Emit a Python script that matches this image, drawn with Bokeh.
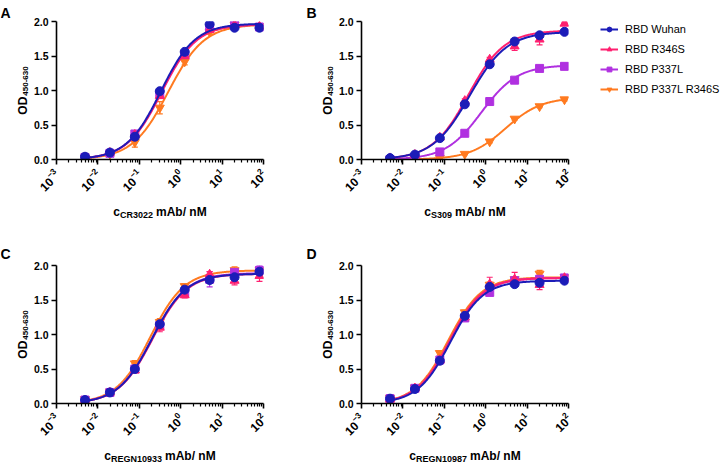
import math
import numpy as np
from bokeh.plotting import figure
from bokeh.layouts import column, row
from bokeh.models import (Range1d, FixedTicker, PrintfTickFormatter, Legend,
                          LegendItem, Whisker, ColumnDataSource, TeeHead)
from bokeh.core.properties import value
from bokeh.embed import file_html
from bokeh.resources import INLINE

# ---------------- data ----------------
CONC = [0.00488, 0.0195, 0.078, 0.3125, 1.25, 5.0, 20.0, 80.0]   # nM
SERIES = ["RBD Wuhan", "RBD R346S", "RBD P337L", "RBD P337L R346S"]
COLORS = ["#1C1CB8", "#FF2070", "#B030E0", "#FF7A20"]
MARKERS = ["circle", "triangle", "square", "inverted_triangle"]
MSIZE = [9, 9, 8, 9]
X_TICKS = [1e-3, 1e-2, 1e-1, 1e0, 1e1, 1e2]
Y_TICKS = [0.0, 0.5, 1.0, 1.5, 2.0]

# Panel A - CR3022
A_WUHAN = [0.04, 0.10, 0.33, 0.99, 1.56, 1.96, 1.91, 1.91]
A_R346S = [0.03, 0.10, 0.36, 0.92, 1.50, 1.88, 1.95, 1.93]
A_P337L = [0.03, 0.09, 0.37, 0.95, 1.52, 1.90, 1.95, 1.92]
A_P337L_R346S = [0.02, 0.08, 0.25, 0.75, 1.42, 1.85, 1.95, 1.93]
A_WUHAN_ERR = [0.01, 0.01, 0.02, 0.03, 0.02, 0.04, 0.02, 0.03]
A_R346S_ERR = [0.01, 0.02, 0.02, 0.03, 0.03, 0.02, 0.02, 0.02]
A_P337L_ERR = [0.01, 0.01, 0.03, 0.03, 0.02, 0.04, 0.02, 0.03]
A_P337L_R346S_ERR = [0.01, 0.03, 0.07, 0.09, 0.05, 0.03, 0.02, 0.02]
# 4PL fit parameters (top, EC50, Hill), bottom = 0
A_FIT = [(1.97, 0.33, 1.05), (1.96, 0.35, 1.03), (1.96, 0.34, 1.04), (1.96, 0.50, 1.00)]

# Panel B - S309
B_WUHAN = [0.02, 0.07, 0.31, 0.80, 1.38, 1.71, 1.80, 1.85]
B_R346S = [0.02, 0.07, 0.32, 0.85, 1.45, 1.64, 1.74, 1.97]
B_P337L = [0.00, 0.00, 0.11, 0.38, 0.84, 1.15, 1.32, 1.35]
B_P337L_R346S = [0.00, 0.00, 0.02, 0.08, 0.26, 0.59, 0.77, 0.87]
B_WUHAN_ERR = [0.01, 0.01, 0.02, 0.02, 0.02, 0.02, 0.03, 0.02]
B_R346S_ERR = [0.01, 0.01, 0.02, 0.03, 0.03, 0.06, 0.08, 0.02]
B_P337L_ERR = [0.01, 0.01, 0.01, 0.02, 0.02, 0.02, 0.02, 0.02]
B_P337L_R346S_ERR = [0.01, 0.01, 0.01, 0.01, 0.02, 0.02, 0.02, 0.02]
B_FIT = [(1.85, 0.41, 0.97), (1.87, 0.38, 1.00), (1.37, 0.79, 1.00), (0.90, 3.00, 1.00)]

# Panel C - REGN10933
C_WUHAN = [0.05, 0.16, 0.50, 1.15, 1.65, 1.79, 1.83, 1.91]
C_R346S = [0.04, 0.16, 0.48, 1.10, 1.57, 1.87, 1.78, 1.85]
C_P337L = [0.05, 0.16, 0.50, 1.13, 1.60, 1.80, 1.90, 1.93]
C_P337L_R346S = [0.06, 0.17, 0.58, 1.18, 1.70, 1.82, 1.93, 1.93]
C_WUHAN_ERR = [0.02, 0.02, 0.03, 0.06, 0.03, 0.05, 0.05, 0.04]
C_R346S_ERR = [0.01, 0.01, 0.03, 0.06, 0.04, 0.04, 0.06, 0.08]
C_P337L_ERR = [0.01, 0.01, 0.02, 0.05, 0.03, 0.11, 0.05, 0.07]
C_P337L_R346S_ERR = [0.02, 0.02, 0.04, 0.05, 0.03, 0.04, 0.05, 0.04]
C_FIT = [(1.88, 0.203, 1.06), (1.88, 0.210, 1.05), (1.89, 0.205, 1.05), (1.93, 0.185, 1.05)]

# Panel D - REGN10987
D_WUHAN = [0.07, 0.21, 0.62, 1.27, 1.69, 1.73, 1.75, 1.78]
D_R346S = [0.06, 0.22, 0.63, 1.25, 1.73, 1.80, 1.72, 1.82]
D_P337L = [0.07, 0.22, 0.63, 1.24, 1.61, 1.78, 1.80, 1.82]
D_P337L_R346S = [0.08, 0.23, 0.73, 1.32, 1.72, 1.80, 1.88, 1.83]
D_WUHAN_ERR = [0.01, 0.02, 0.02, 0.03, 0.03, 0.03, 0.03, 0.02]
D_R346S_ERR = [0.01, 0.02, 0.03, 0.04, 0.10, 0.10, 0.07, 0.02]
D_P337L_ERR = [0.01, 0.02, 0.02, 0.03, 0.03, 0.03, 0.03, 0.02]
D_P337L_R346S_ERR = [0.01, 0.02, 0.03, 0.03, 0.04, 0.03, 0.05, 0.02]
D_FIT = [(1.78, 0.140, 1.10), (1.82, 0.135, 1.08), (1.82, 0.137, 1.08), (1.83, 0.125, 1.08)]

PANELS = [
    ("A", "CR3022", [A_WUHAN, A_R346S, A_P337L, A_P337L_R346S],
     [A_WUHAN_ERR, A_R346S_ERR, A_P337L_ERR, A_P337L_R346S_ERR], A_FIT),
    ("B", "S309", [B_WUHAN, B_R346S, B_P337L, B_P337L_R346S],
     [B_WUHAN_ERR, B_R346S_ERR, B_P337L_ERR, B_P337L_R346S_ERR], B_FIT),
    ("C", "REGN10933", [C_WUHAN, C_R346S, C_P337L, C_P337L_R346S],
     [C_WUHAN_ERR, C_R346S_ERR, C_P337L_ERR, C_P337L_R346S_ERR], C_FIT),
    ("D", "REGN10987", [D_WUHAN, D_R346S, D_P337L, D_P337L_R346S],
     [D_WUHAN_ERR, D_R346S_ERR, D_P337L_ERR, D_P337L_R346S_ERR], D_FIT),
]

# ---------------- styling helpers ----------------
FONT = "Liberation Sans"
FRAME_W, FRAME_H = 207, 138
MAIN_LEFT = 26          # room for y tick labels
YLABEL_OFF = 34         # baseline of y title, px left of the frame
BOLD_W = {"c": 556, "m": 889, "A": 722, "b": 611, "/": 278, " ": 278, "n": 611, "M": 833,
          "C": 722, "R": 722, "S": 667, "E": 667, "G": 778, "N": 722, "-": 333, "O": 778, "D": 722}


def text_w(s, size):
    return sum(BOLD_W.get(ch, 556) for ch in s) * size / 1000.0


def four_pl(x, top, ec50, hill):
    return top / (1.0 + (ec50 / x) ** hill)


def strip(w, h):
    s = figure(width=w, height=h, x_range=Range1d(0, w), y_range=Range1d(0, h),
               min_border=0, toolbar_location=None, output_backend="svg",
               x_axis_location=None, y_axis_location=None, frame_align=False)
    s.grid.visible = False
    s.outline_line_color = None
    s.background_fill_color = "white"
    s.border_fill_color = "white"
    return s


def put_text(s, x, y, txt, size, angle=0.0, bold=True):
    s.text(x=[x], y=[y], text=[txt], angle=angle, text_font=value(FONT),
           text_font_size=f"{size}px", text_font_style="bold" if bold else "normal",
           text_color="black", text_align="left", text_baseline="alphabetic")


def make_main(values, errs, fits, right, top, bottom):
    p = figure(frame_width=FRAME_W, frame_height=FRAME_H, x_axis_type="log",
               x_range=Range1d(X_TICKS[0], X_TICKS[-1]), y_range=Range1d(Y_TICKS[0], Y_TICKS[-1]),
               output_backend="svg", toolbar_location=None, frame_align=False,
               min_border_left=MAIN_LEFT, min_border_right=right,
               min_border_top=top, min_border_bottom=bottom)
    p.outline_line_color = None
    p.xgrid.visible = False
    p.ygrid.visible = False
    p.background_fill_color = "white"
    p.border_fill_color = "white"

    minor = [k * 10.0 ** d for d in range(-3, 2) for k in range(2, 10)]
    p.xaxis.ticker = FixedTicker(ticks=X_TICKS, minor_ticks=minor)
    p.yaxis.ticker = FixedTicker(ticks=Y_TICKS, minor_ticks=[])
    p.yaxis.formatter = PrintfTickFormatter(format="%.1f")
    for ax in (p.xaxis[0], p.yaxis[0]):
        ax.axis_line_width = 1.6
        ax.axis_line_color = "black"
        ax.major_tick_line_width = 1.6
        ax.major_tick_line_color = "black"
        ax.major_tick_in = 0
        ax.major_tick_out = 5
        ax.minor_tick_in = 0
        ax.minor_tick_out = 3
        ax.minor_tick_line_width = 1.2
        ax.minor_tick_line_color = "black"
        ax.major_label_text_font = FONT
        ax.major_label_text_font_style = "bold"
        ax.major_label_text_color = "black"
    p.yaxis.major_label_text_font_size = "10.5px"
    p.xaxis.major_label_text_font_size = "12px"
    p.xaxis.major_label_orientation = math.pi / 4
    p.xaxis.major_label_standoff = 7
    p.yaxis.major_label_standoff = 3

    xs = np.geomspace(min(CONC), max(CONC), 240)
    renderers = []
    for i in [3, 2, 1, 0]:
        col = COLORS[i]
        top_, ec50, hill = fits[i]
        lr = p.line(xs, four_pl(xs, top_, ec50, hill), line_color=col, line_width=2)
        y = np.array(values[i])
        e = np.array(errs[i])
        src = ColumnDataSource(dict(x=CONC, upper=y + e, lower=y - e))
        wk = Whisker(base="x", upper="upper", lower="lower", source=src,
                     line_color=col, line_width=1.2, level="underlay",
                     upper_head=TeeHead(size=6, line_color=col, line_width=1.2),
                     lower_head=TeeHead(size=6, line_color=col, line_width=1.2))
        p.add_layout(wk)
        sr = p.scatter(CONC, values[i], marker=MARKERS[i], size=MSIZE[i],
                       fill_color=col, line_color=col)
        renderers.append((i, lr, sr))
    return p, renderers


def make_panel(letter, mab, values, errs, fits, strip_w, right, top, bottom,
               letter_x, letter_top, bottom_h, label_base):
    main, rends = make_main(values, errs, fits, right, top, bottom)
    main_w = MAIN_LEFT + FRAME_W + right
    main_h = top + FRAME_H + bottom

    # left strip: panel letter + y title (OD with subscript)
    ls = strip(strip_w, main_h)
    put_text(ls, letter_x, main_h - letter_top, letter, 14)
    od_w = text_w("OD", 12)
    sub_w = text_w("450-630", 8)
    yc = bottom + FRAME_H / 2
    y0 = yc - (od_w + 1 + sub_w) / 2
    xb = strip_w + MAIN_LEFT - YLABEL_OFF
    put_text(ls, xb, y0, "OD", 12, angle=math.pi / 2)
    put_text(ls, xb + 3, y0 + od_w + 1, "450-630", 8, angle=math.pi / 2)

    # bottom strip: x title c_mAb mAb/ nM
    bw = strip_w + main_w
    bs = strip(bw, bottom_h)
    cw = text_w("c", 12)
    sw = text_w(mab, 9)
    rw = text_w("mAb/ nM", 12)
    total = cw + sw + 3 + rw
    x0 = strip_w + MAIN_LEFT + FRAME_W / 2 - total / 2
    put_text(bs, x0, label_base, "c", 12)
    put_text(bs, x0 + cw, label_base - 3, mab, 9)
    put_text(bs, x0 + cw + sw + 3, label_base, "mAb/ nM", 12)

    return column(row(ls, main), bs), main, rends


# top row: frames at y 21..159 ; bottom row: frames at y 265..403
colA, _, _ = make_panel(*PANELS[0], strip_w=30, right=41, top=21, bottom=44,
                        letter_x=0, letter_top=12, bottom_h=29, label_base=21)
colB, pB, rB = make_panel(*PANELS[1], strip_w=31, right=153, top=21, bottom=44,
                          letter_x=2, letter_top=12, bottom_h=29, label_base=21)
colC, _, _ = make_panel(*PANELS[2], strip_w=30, right=41, top=33, bottom=40,
                        letter_x=0, letter_top=21, bottom_h=19, label_base=7)
colD, _, _ = make_panel(*PANELS[3], strip_w=31, right=153, top=33, bottom=40,
                        letter_x=2, letter_top=21, bottom_h=19, label_base=7)

items = []
for i, lr, sr in sorted(rB, key=lambda t: t[0]):
    items.append(LegendItem(label=SERIES[i], renderers=[lr, sr]))
legend = Legend(items=items, location=(32, 64), padding=0, margin=0, spacing=8,
                label_height=12, glyph_height=12, glyph_width=18, label_standoff=7,
                label_text_font=FONT, label_text_font_size="11px", label_text_color="black",
                border_line_color=None, background_fill_alpha=0)
pB.add_layout(legend, "right")

layout = column(row(colA, colB), row(colC, colD))

with open("out.html", "w") as f:
    f.write(file_html(layout, INLINE))
